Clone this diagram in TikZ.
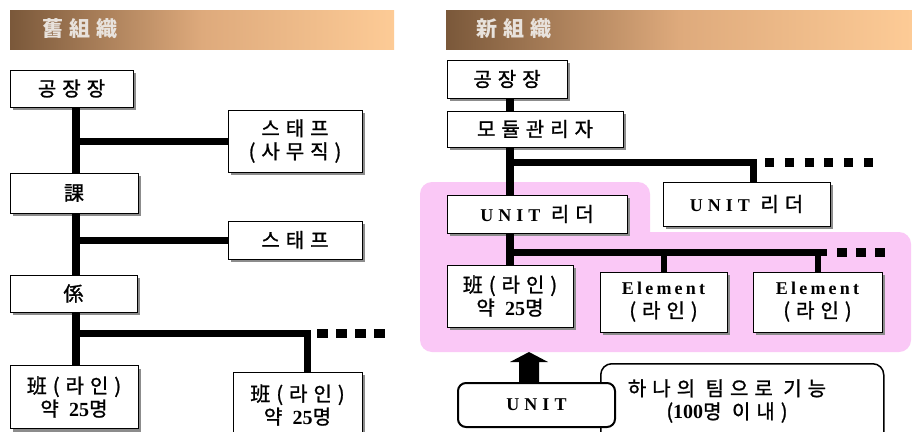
\documentclass[tikz,border=0pt]{standalone}
\usepackage{fontspec}
\setmainfont{Noto Sans CJK KR}[LetterSpace=30, FakeBold=1.2]
\newfontfamily\hdrfont{Noto Sans CJK KR}[LetterSpace=30]
\newfontfamily\latU{Liberation Serif}[LetterSpace=28]
\newfontfamily\latE{Liberation Serif}[LetterSpace=18]
\newfontfamily\latn{Liberation Serif}
\newcommand\UNIT{{\fontsize{18}{20}\selectfont\latU\bfseries UNIT}}
\newcommand\ELEM{{\fontsize{18}{20}\selectfont\latE\bfseries Element}}
\newcommand\num[1]{{\latn\bfseries #1}}
\usetikzlibrary{shadows}
\definecolor{pinkbg}{RGB}{250,200,246}
\definecolor{brownL}{RGB}{122,88,58}
\definecolor{brownM}{RGB}{222,170,124}
\definecolor{peach}{RGB}{253,203,150}
\definecolor{shadowgray}{RGB}{140,140,140}
\definecolor{hdrtext}{RGB}{232,226,220}
\tikzset{
  box/.style={draw=black, line width=1pt, fill=white, inner sep=0pt, align=center,
    font=\fontsize{20}{23}\selectfont,
    drop shadow={shadow xshift=3pt, shadow yshift=-3pt, fill=shadowgray, opacity=1}},
  hdr/.style={font=\fontsize{21}{22}\selectfont\hdrfont\bfseries, text=hdrtext, inner sep=0pt},
  trunk/.style={line width=8pt},
  hline/.style={line width=7pt},
  stub/.style={line width=6pt},
  dotsA/.style={line width=9pt, dash pattern=on 11pt off 8pt},
  dotsB/.style={line width=9pt, dash pattern=on 9pt off 10.8pt},
  dotsC/.style={line width=9pt, dash pattern=on 10pt off 9pt},
  roundbox/.style={draw=black, rounded corners=8pt, fill=white, inner sep=0pt}
}
\begin{document}
\begin{tikzpicture}[x=1pt,y=-1pt]
\clip (0,0) rectangle (912,431);
\fill[white] (0,0) rectangle (912,431);

% pink unit area
\fill[pinkbg, rounded corners=12pt] (420,182) rectangle (650,262);
\fill[pinkbg, rounded corners=12pt] (420,232) rectangle (911,352);

% headers
\shade[left color=brownL, right color=peach, middle color=brownM] (10,10) rectangle (394,49);
\shade[left color=brownL, right color=peach, middle color=brownM] (446,10) rectangle (912,49);
\node[hdr] (h1) at (80,29) {舊組織};
\node[hdr] (h2) at (514,29) {新組織};

% ---------- old organisation ----------
\node[box, minimum width=123pt, minimum height=37pt] (g1) at (71.5,88.5) {공장장};
\node[box, minimum width=134pt, minimum height=62pt] (s1) at (295,141) {스태프\\(사무직)};
\node[box, minimum width=128pt, minimum height=40pt] (gw) at (74,193) {課};
\node[box, minimum width=134pt, minimum height=38pt] (s2) at (295,240) {스태프};
\node[box, minimum width=127pt, minimum height=37pt] (gy) at (73.5,293.5) {係};
\node[box, minimum width=128pt, minimum height=63pt] (b1) at (74,397) {班(라인)\\약 \num{25}명};
\node[box, minimum width=129pt, minimum height=66pt] (b2) at (297.5,405) {班(라인)\\약 \num{25}명};

\coordinate (tx) at (76,0);
\draw[trunk] (g1.south -| tx) -- (gw.north -| tx);
\draw[trunk] (gw.south -| tx) -- (gy.north -| tx);
\draw[trunk] (gy.south -| tx) -- (b1.north -| tx);
\draw[hline] (tx |- s1.west) -- (s1.west);
\draw[hline] (tx |- s2.west) -- (s2.west);
\coordinate (j1) at (76,333);
\coordinate (c1) at (307,333);
\coordinate (d1) at (385,333);
\draw[hline] (j1) -- (c1) -- (c1 |- b2.north);
\draw[dotsA] ([xshift=10pt]c1) -- (d1);

% ---------- new organisation ----------
\node[box, minimum width=120pt, minimum height=38pt] (g2) at (507,79) {공장장};
\node[box, minimum width=176pt, minimum height=36pt] (md) at (535,129) {모듈관리자};
\node[box, minimum width=180pt, minimum height=38pt] (u1) at (537,214) {\UNIT\ 리더};
\node[box, minimum width=167pt, minimum height=44pt] (u2) at (746.5,204) {\UNIT\ 리더};
\node[box, minimum width=126pt, minimum height=62pt] (b3) at (510,296) {班(라인)\\약 \num{25}명};
\node[box, minimum width=127pt, minimum height=60pt] (e1) at (663.5,302) {\ELEM\\(라인)};
\node[box, minimum width=129pt, minimum height=60pt] (e2) at (817.5,302) {\ELEM\\(라인)};

\coordinate (tx2) at (510,0);
\draw[trunk] (g2.south -| tx2) -- (md.north -| tx2);
\draw[trunk] (md.south -| tx2) -- (u1.north -| tx2);
\coordinate (j2) at (510,162);
\coordinate (c2) at (753,162);
\coordinate (d2) at (873,162);
\draw[hline] (j2) -- (c2) -- (c2 |- u2.north);
\draw[dotsB] ([xshift=12pt]c2) -- (d2);
\draw[trunk] (u1.south -| tx2) -- (b3.north -| tx2);
\coordinate (j3) at (510,252);
\coordinate (c3) at (827,252);
\coordinate (d3) at (885,252);
\draw[hline] (j3) -- (c3);
\draw[stub] (e1.north |- j3) -- (e1.north);
\draw[stub] (e2.north |- j3) -- (e2.north);
\draw[dotsC] ([xshift=10pt]c3) -- (d3);

% bottom explanation
\node[roundbox, line width=1.5pt, rounded corners=11pt, minimum width=283pt, minimum height=95pt, anchor=north west] (tb) at (600,363) {};
\node[font=\fontsize{20}{23}\selectfont, align=center, inner sep=0pt] (tbt) at (727,401) {하나의 팀으로 기능\\(\num{100}명 이내)};
\node[roundbox, line width=2pt, minimum width=157pt, minimum height=44pt] (unit) at (536.5,405) {\UNIT};
\coordinate (ar) at (unit.north -| 529,0);
\fill (ar) ++(-10,0) -- ++(0,-20) -- ++(-9,0) -- ++(19,-10) -- ++(19,10) -- ++(-9,0) -- ++(0,20) -- cycle;
\end{tikzpicture}
\end{document}
